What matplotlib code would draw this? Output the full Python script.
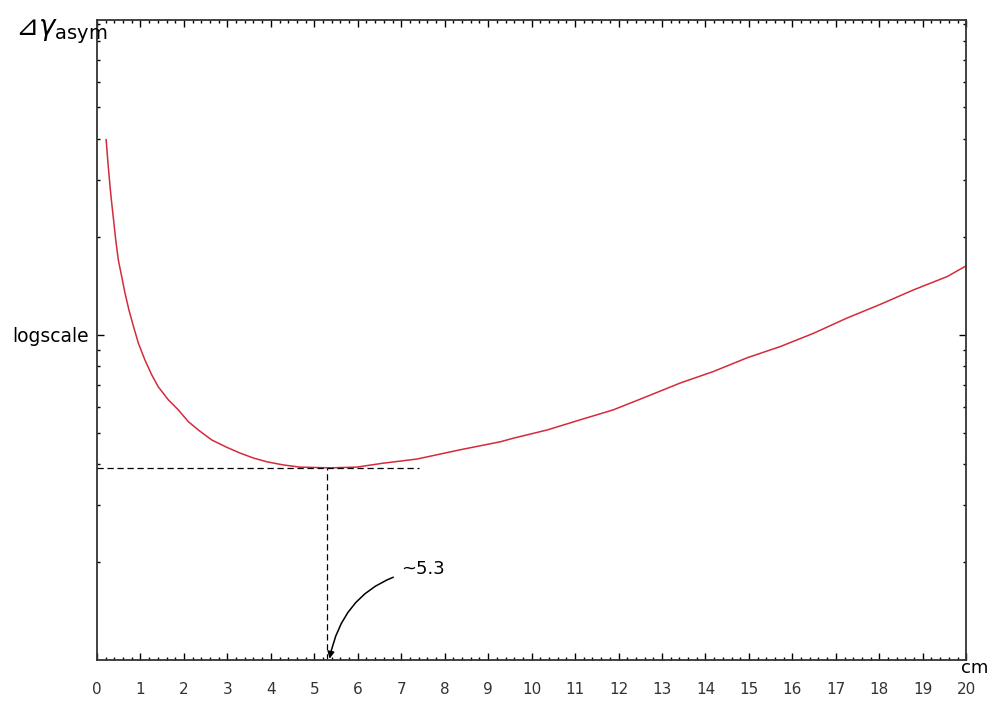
import numpy as np
import matplotlib.pyplot as plt
from matplotlib.ticker import LogLocator, NullFormatter, MultipleLocator

# curve (x in cm, y on log scale, arbitrary units)
x_cm = [0.21, 0.246, 0.30, 0.338, 0.38, 0.43, 0.49, 0.568, 0.64, 0.736, 0.84,
        0.951, 1.10, 1.259, 1.41, 1.641, 1.87, 2.10, 2.33, 2.64, 2.985, 3.29,
        3.60, 3.91, 4.29, 4.67, 5.36, 5.98, 6.58, 7.36, 8.35, 9.28, 9.58,
        10.36, 11.12, 11.88, 12.65, 13.42, 14.18, 14.96, 15.72, 16.48, 17.25,
        18.02, 18.79, 19.56, 20.0]
gamma = [39.8, 34.5, 28.5, 25.4, 22.6, 19.6, 17.0, 15.1, 13.5, 11.9, 10.6,
         9.43, 8.38, 7.53, 6.92, 6.31, 5.88, 5.41, 5.10, 4.75, 4.51, 4.33,
         4.18, 4.07, 3.98, 3.92, 3.90, 3.92, 4.03, 4.15, 4.43, 4.69, 4.81,
         5.10, 5.48, 5.88, 6.46, 7.11, 7.71, 8.50, 9.20, 10.1, 11.25,
         12.4, 13.75, 15.1, 16.3]

x_min = 5.3
y_min = 3.9
x_hline_end = 7.4
xticks = list(range(0, 21))

fig = plt.figure(figsize=(9.9, 7.06), dpi=100)
ax = fig.add_axes([0.098, 0.065, 0.878, 0.907])

ax.plot(x_cm, gamma, color='#d42a3c', lw=1.1)

ax.plot([0, x_hline_end], [y_min, y_min], color='black', lw=0.9, ls=(0, (5, 3)))
ax.plot([x_min, x_min], [1, y_min], color='black', lw=0.9, ls=(0, (5, 3)))

ax.annotate('~5.3', xy=(x_min + 0.05, 1.01), xytext=(7.0, 1.9),
            fontsize=13, ha='left', va='center',
            arrowprops=dict(arrowstyle='-|>', color='black', lw=1.1,
                            connectionstyle='arc3,rad=0.35',
                            shrinkA=4, shrinkB=0, mutation_scale=10))

ax.set_yscale('log')
ax.set_xlim(0, 20)
ax.set_ylim(1, 93)

ax.set_xticks(xticks)
ax.set_xticklabels([str(t) for t in xticks], fontsize=11, color='#333333')
ax.xaxis.set_minor_locator(MultipleLocator(0.2))
ax.set_yticks([10])
ax.set_yticklabels(['logscale'], fontsize=13.5)
ax.yaxis.set_minor_locator(LogLocator(base=10, subs=np.arange(2, 10)))
ax.yaxis.set_minor_formatter(NullFormatter())

ax.tick_params(which='both', direction='in', top=True, right=True)
ax.tick_params(which='major', length=5, width=1.0)
ax.tick_params(which='minor', length=2.5, width=1.0)
ax.tick_params(axis='x', which='major', pad=16)
ax.tick_params(axis='y', which='major', pad=6)
for s in ax.spines.values():
    s.set_linewidth(1.3)
    s.set_color('#333333')

fig.text(0.985, 0.054, 'cm', fontsize=13, ha='center', va='center')
fig.text(0.015, 0.955, '⊿$\\gamma_{\\rm asym}$', fontsize=20, ha='left', va='center')

fig.savefig('out.png', dpi=100)
